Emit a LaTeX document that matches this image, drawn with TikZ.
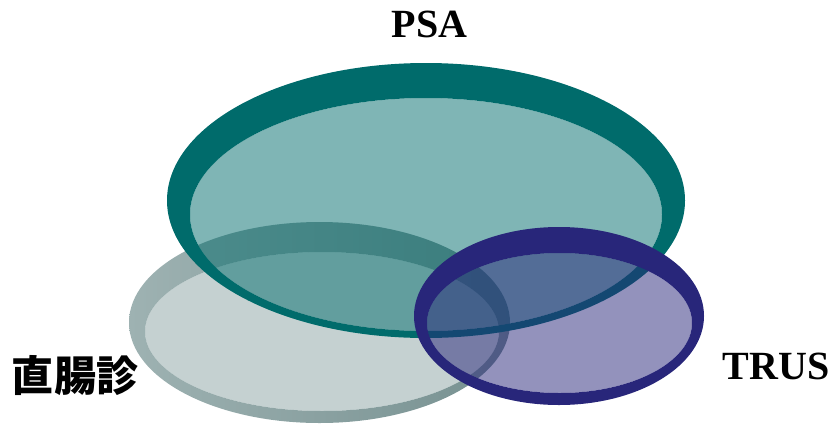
\documentclass[tikz,border=0pt]{standalone}
\usepackage{fontspec}
\setmainfont{Liberation Serif}
\newfontfamily\cjk{Noto Sans CJK JP}
\usetikzlibrary{positioning}

\definecolor{psarim}{RGB}{0,107,107}
\definecolor{dregrim}{RGB}{140,164,164}
\definecolor{dreleft}{RGB}{158,178,178}
\definecolor{dreright}{RGB}{118,144,144}
\definecolor{trusrim}{RGB}{40,38,122}

\begin{document}
\begin{tikzpicture}[
        x=1pt, y=-1pt,
        rim/.style={fill=#1, even odd rule}, % dark edge of each disc
        lens/.style={fill=#1, fill opacity=0.5}, % see-through face
        lbl/.style={font=\fontsize{40}{40}\selectfont\bfseries, inner sep=0pt}
    ]
        \useasboundingbox (0,0) rectangle (837,426);
        % digital rectal exam (bottom layer)
        \shade[even odd rule, left color=dreleft, right color=dreright]
              (319.5,322.5) ellipse [x radius=190.5, y radius=100.5]
              (322,331.5) ellipse [x radius=177, y radius=79.5];
        \fill[lens=dregrim] (322,331.5) ellipse [x radius=177, y radius=79.5];
        % PSA
        \fill[rim=psarim] (426,200.5) ellipse [x radius=259, y radius=137.5]
                          (426,214.5) ellipse [x radius=236, y radius=116.5];
        \fill[lens=psarim] (426,214.5) ellipse [x radius=236, y radius=116.5];
        % TRUS (top layer)
        \fill[rim=trusrim] (559,316) ellipse [x radius=145, y radius=89]
                           (559.5,323) ellipse [x radius=132.5, y radius=70];
        \fill[lens=trusrim] (559.5,323) ellipse [x radius=132.5, y radius=70];
        % labels
        \node[lbl, anchor=base] (psa) at (429.5,37) {PSA};
        \node[lbl, anchor=base] (trus) at (776,379) {TRUS};
        \node[lbl, font=\cjk\fontsize{42}{42}\selectfont\bfseries] (dre) at (75,376) {直腸診};
\end{tikzpicture}
\end{document}
